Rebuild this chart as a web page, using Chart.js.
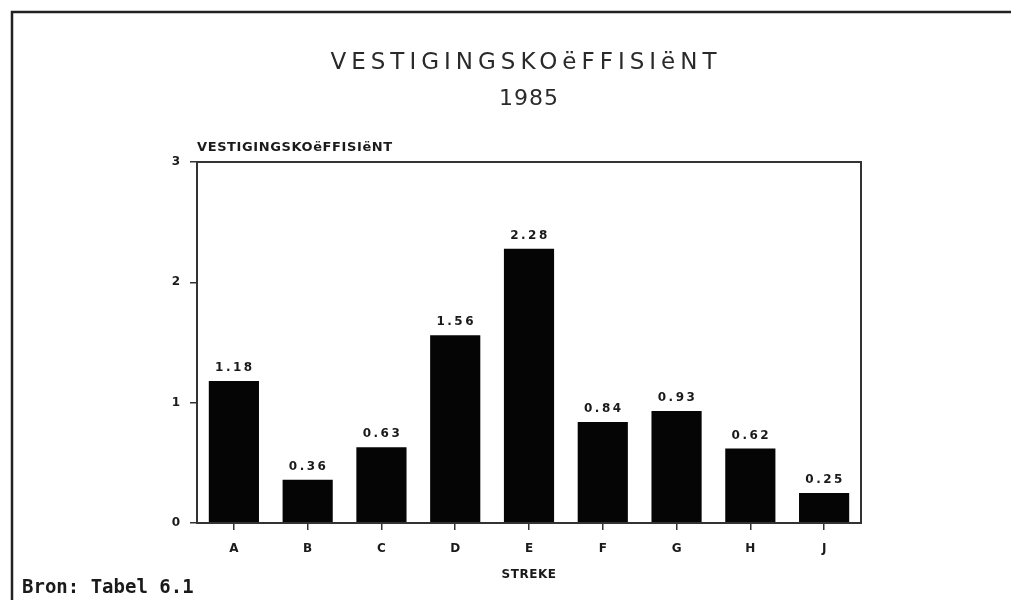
<!DOCTYPE html>
<html>
<head>
<meta charset="utf-8">
<script src="https://cdn.jsdelivr.net/npm/chart.js@4/dist/chart.umd.min.js"></script>
<style>
  html, body { margin: 0; padding: 0; background: #fff; }
  #c { display: block; }
</style>
</head>
<body>
<canvas id="c" width="1011" height="600"></canvas>
<script>
const categories = ['A', 'B', 'C', 'D', 'E', 'F', 'G', 'H', 'J'];
const values = [1.18, 0.36, 0.63, 1.56, 2.28, 0.84, 0.93, 0.62, 0.25];
const valueLabels = ['1.18', '0.36', '0.63', '1.56', '2.28', '0.84', '0.93', '0.62', '0.25'];
const yTicks = [0, 1, 2, 3];
const chartTitle = 'VESTIGINGSKOëFFISIëNT';
const chartSubtitle = '1985';
const yAxisTitle = 'VESTIGINGSKOëFFISIëNT';
const xAxisTitle = 'STREKE';
const sourceNote = 'Bron: Tabel 6.1';

const INK = '#1a1a1a';

const decorPlugin = {
  id: 'decor',
  beforeDraw(chart) {
    const ctx = chart.ctx;
    ctx.save();
    ctx.fillStyle = '#ffffff';
    ctx.fillRect(0, 0, chart.width, chart.height);
    ctx.restore();
  },
  afterDraw(chart) {
    const ctx = chart.ctx;
    const a = chart.chartArea;
    ctx.save();
    // outer frame (top + left)
    ctx.strokeStyle = '#222';
    ctx.lineWidth = 2.5;
    ctx.beginPath();
    ctx.moveTo(12, chart.height);
    ctx.lineTo(12, 12);
    ctx.lineTo(chart.width, 12);
    ctx.stroke();

    // plot box
    ctx.strokeStyle = '#333';
    ctx.lineWidth = 2;
    ctx.strokeRect(a.left, a.top, a.right - a.left, a.bottom - a.top);

    // title
    ctx.fillStyle = '#2a2a2a';
    ctx.textAlign = 'center';
    ctx.textBaseline = 'middle';
    ctx.font = '23px "DejaVu Sans"';
    ctx.letterSpacing = '5px';
    ctx.fillText(chartTitle, 526, 63);
    ctx.font = '22px "DejaVu Sans"';
    ctx.letterSpacing = '1px';
    ctx.fillText(chartSubtitle, 529, 99);

    // y axis title
    ctx.fillStyle = INK;
    ctx.textAlign = 'left';
    ctx.font = 'bold 13px "DejaVu Sans"';
    ctx.letterSpacing = '0.6px';
    ctx.fillText(yAxisTitle, a.left, 148);

    // x axis title
    ctx.textAlign = 'center';
    ctx.font = 'bold 12px "DejaVu Sans"';
    ctx.letterSpacing = '0.5px';
    ctx.fillText(xAxisTitle, (a.left + a.right) / 2, 575);

    // source note
    ctx.textAlign = 'left';
    ctx.font = 'bold 19px "DejaVu Sans Mono"';
    ctx.letterSpacing = '0px';
    ctx.fillText(sourceNote, 22, 588);

    // value labels
    const meta = chart.getDatasetMeta(0);
    ctx.textAlign = 'center';
    ctx.textBaseline = 'middle';
    ctx.font = 'bold 12px "DejaVu Sans"';
    ctx.letterSpacing = '2.5px';
    ctx.fillStyle = INK;
    meta.data.forEach((bar, i) => {
      ctx.fillText(valueLabels[i], bar.x + 1, bar.y - 13);
    });
    ctx.restore();
  }
};

new Chart(document.getElementById('c'), {
  type: 'bar',
  data: {
    labels: categories,
    datasets: [{
      data: values,
      backgroundColor: '#050505',
      borderWidth: 0,
      categoryPercentage: 1.0,
      barPercentage: 0.68
    }]
  },
  options: {
    responsive: false,
    animation: false,
    devicePixelRatio: 1,
    layout: { padding: { left: 0, top: 162, right: 150, bottom: 0 } },
    plugins: {
      legend: { display: false },
      title: { display: false },
      tooltip: { enabled: false }
    },
    scales: {
      x: {
        offset: true,
        afterFit(scale) { scale.height = 77; },
        grid: {
          offset: false,
          drawOnChartArea: false,
          drawTicks: true,
          tickLength: 7,
          color: '#333',
          lineWidth: 1.5
        },
        border: { display: false },
        ticks: {
          color: INK,
          padding: 12,
          font: { family: 'DejaVu Sans', size: 12, weight: 'bold' }
        }
      },
      y: {
        min: 0,
        max: 3,
        afterFit(scale) { scale.width = 197; },
        afterBuildTicks(scale) { scale.ticks = yTicks.map(v => ({ value: v })); },
        grid: {
          drawOnChartArea: false,
          drawTicks: true,
          tickLength: 7,
          color: '#333',
          lineWidth: 1.5
        },
        border: { display: false },
        ticks: {
          color: INK,
          padding: 10,
          font: { family: 'DejaVu Sans', size: 12, weight: 'bold' },
          callback: (v) => String(v)
        }
      }
    }
  },
  plugins: [decorPlugin]
});
</script>
</body>
</html>
